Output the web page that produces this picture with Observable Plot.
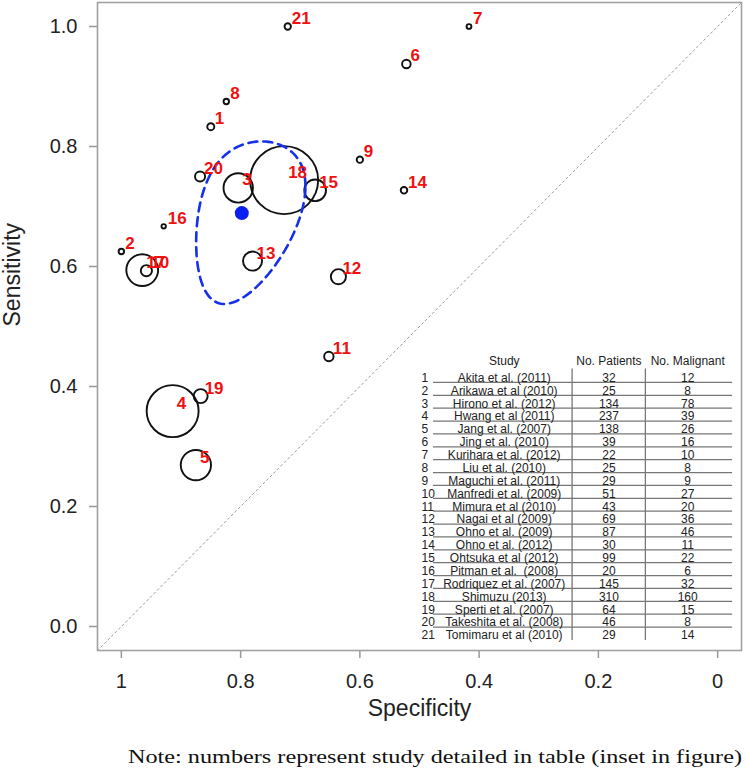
<!DOCTYPE html>
<html><head><meta charset="utf-8">
<script src="https://cdn.jsdelivr.net/npm/d3@7"></script>
<script src="https://cdn.jsdelivr.net/npm/@observablehq/plot@0.6"></script>
<style>
body{margin:0;background:#fff;}
#chart svg{display:block;}
#caption{font-family:"Liberation Serif","Times New Roman",serif;font-size:19px;line-height:30px;height:30px;white-space:nowrap;padding-left:128px;color:#111;}
#caption span{display:inline-block;transform-origin:0 50%;}
</style></head><body>
<div id="chart"></div>
<div id="caption"><span id="capText">Note: numbers represent study detailed in table (inset in figure)</span></div>
<script>
// ---- data ----
const studyIds = [1,2,3,4,5,6,7,8,9,10,11,12,13,14,15,16,17,18,19,20,21];
const studyNames = ["Akita et al. (2011)","Arikawa et al (2010)","Hirono et al. (2012)","Hwang et al (2011)","Jang et al. (2007)","Jing et al. (2010)","Kurihara et al. (2012)","Liu et al. (2010)","Maguchi et al. (2011)","Manfredi et al. (2009)","Mimura et al (2010)","Nagai et al (2009)","Ohno et al. (2009)","Ohno et al. (2012)","Ohtsuka et al (2012)","Pitman et al.  (2008)","Rodriquez et al. (2007)","Shimuzu (2013)","Sperti et al. (2007)","Takeshita et al. (2008)","Tomimaru et al (2010)"];
const patients = [32,25,134,237,138,39,22,25,29,51,43,69,87,30,99,20,145,310,64,46,29];
const malignant = [12,8,78,39,26,16,10,8,9,27,20,36,46,11,22,6,32,160,15,8,14];
const specificity = [0.850,1.000,0.804,0.914,0.875,0.522,0.417,0.824,0.600,0.958,0.652,0.636,0.780,0.526,0.675,0.929,0.965,0.727,0.867,0.868,0.721];
const sensitivity = [0.833,0.625,0.731,0.359,0.269,0.9375,1.000,0.875,0.778,0.593,0.450,0.583,0.609,0.727,0.727,0.667,0.594,0.744,0.384,0.750,1.000];
const summarySpec = 0.798;
const summarySens = 0.689;
// confidence region (logit space): sd of logit FPR, sd of logit sensitivity, covariance
const regionSdLogitFpr = 0.568;
const regionSdLogitSens = 0.645;
const regionCovLogit = 0.124;
const xTicks = [1,0.8,0.6,0.4,0.2,0];
const xTickLabels = ["1","0.8","0.6","0.4","0.2","0"];
const yTicks = [0,0.2,0.4,0.6,0.8,1];
const yTickLabels = ["0.0","0.2","0.4","0.6","0.8","1.0"];
const tableHeaders = ["Study","No. Patients","No. Malignant"];
const xLabel = "Specificity";
const yLabel = "Sensitivity";

// ---- build ----
const studies = studyIds.map((id,i)=>({id, name: studyNames[i], n: patients[i], m: malignant[i], spec: specificity[i], sens: sensitivity[i]}));

const logit = p => Math.log(p/(1-p));
const expit = z => 1/(1+Math.exp(-z));
const cF = logit(1-summarySpec), cS = logit(summarySens);
const L11 = regionSdLogitFpr, L21 = regionCovLogit/regionSdLogitFpr, L22 = Math.sqrt(regionSdLogitSens**2 - L21**2);
const region = d3.range(0, 121).map(k => {
  const t = k/120*2*Math.PI;
  const f = cF + L11*Math.cos(t);
  const s = cS + L21*Math.cos(t) + L22*Math.sin(t);
  return {spec: 1-expit(f), sens: expit(s)};
});

const xDom = [1.04,-0.04], yDom = [-0.04,1.04];
const diag = [{spec: xDom[0], sens: 1-xDom[0]}, {spec: xDom[1], sens: 1-xDom[1]}];

// table layout (in data units of the plot)
const tCol = {num: 0.4967, study: 0.3579, pat: 0.1823, mal: 0.0502, v1: 0.2441, v2: 0.1212, hx1: 0.4766, hx2: -0.0251};
const tRow0 = 0.4143, tStep = 0.02146, tHead = 0.4426, tLineOff = 0.0075, tVTop = 0.4293, tVBot = -0.0233;
const tableRows = studies.map((d,i)=>({...d, ty: tRow0 - i*tStep}));
const hlines = tableRows.slice(0,-1).map(d=>({y: d.ty - tLineOff}));
const vlines = [{x: tCol.v1},{x: tCol.v2}];
const headers = [{t: tableHeaders[0], x: tCol.study},{t: tableHeaders[1], x: tCol.pat},{t: tableHeaders[2], x: tCol.mal}];

const W = 746, H = 742;
const chart = Plot.plot({
  width: W, height: H,
  marginLeft: 97, marginRight: 5, marginTop: 2, marginBottom: H - 650,
  style: {fontFamily: "'Liberation Sans', Arial, sans-serif", fontSize: "12px", color: "#222", background: "white"},
  x: {domain: xDom, label: null},
  y: {domain: yDom, label: null},
  r: {type: "linear", domain: [0, 310], range: [0, 34]},
  marks: [
    Plot.line(diag, {x: "spec", y: "sens", stroke: "#9a9a9a", strokeWidth: 1, strokeDasharray: "2,3"}),
    Plot.dot(studies, {x: "spec", y: "sens", r: "n", stroke: "#111", strokeWidth: 1.9, fill: "none"}),
    Plot.line(region, {x: "spec", y: "sens", stroke: "#1430e8", strokeWidth: 2.6, strokeDasharray: "9,6"}),
    Plot.dot([{spec: summarySpec, sens: summarySens}], {x: "spec", y: "sens", r: 7, fill: "#0a1ef0", stroke: "none"}),
    Plot.text(studies, {x: "spec", y: "sens", text: d => String(d.id), dx: 4, dy: -8, textAnchor: "start", fill: "#f01010", fontWeight: "bold", fontSize: 17}),
    // table
    Plot.ruleY(hlines, {y: "y", x1: tCol.hx1, x2: tCol.hx2, stroke: "#777", strokeWidth: 1.3}),
    Plot.ruleX(vlines, {x: "x", y1: tVTop, y2: tVBot, stroke: "#777", strokeWidth: 1.3}),
    Plot.text(headers, {x: "x", y: () => tHead, text: "t", fontSize: 12, fill: "#222"}),
    Plot.text(tableRows, {x: () => tCol.num, y: "ty", text: d => String(d.id), textAnchor: "start", fontSize: 12, fill: "#222"}),
    Plot.text(tableRows, {x: () => tCol.study, y: "ty", text: "name", fontSize: 12, fill: "#222"}),
    Plot.text(tableRows, {x: () => tCol.pat, y: "ty", text: d => String(d.n), fontSize: 12, fill: "#222"}),
    Plot.text(tableRows, {x: () => tCol.mal, y: "ty", text: d => String(d.m), fontSize: 12, fill: "#222"}),
    // axes
    Plot.axisY({anchor: "left", ticks: yTicks, tickFormat: d => yTickLabels[yTicks.indexOf(d)], tickSize: 8, tickPadding: 12, fontSize: 20, stroke: "#999", strokeWidth: 1.5, fill: "#222", label: null}),
    Plot.axisX({anchor: "bottom", ticks: xTicks, tickFormat: d => xTickLabels[xTicks.indexOf(d)], tickSize: 8, tickPadding: 15, fontSize: 20, stroke: "#999", strokeWidth: 1.5, fill: "#222", label: null}),
    Plot.text([xLabel], {frameAnchor: "bottom", dy: 65, fontSize: 23, fill: "#222"}),
    Plot.text([yLabel], {frameAnchor: "left", dx: -85, rotate: -90, fontSize: 23, fill: "#222"}),
    Plot.frame({stroke: "#a0a0a0", strokeWidth: 1.6})
  ]
});
document.getElementById("chart").appendChild(chart);
const cap = document.getElementById("capText");
const w = cap.getBoundingClientRect().width;
cap.style.transform = `scaleX(${614 / w})`;
</script>
</body></html>
